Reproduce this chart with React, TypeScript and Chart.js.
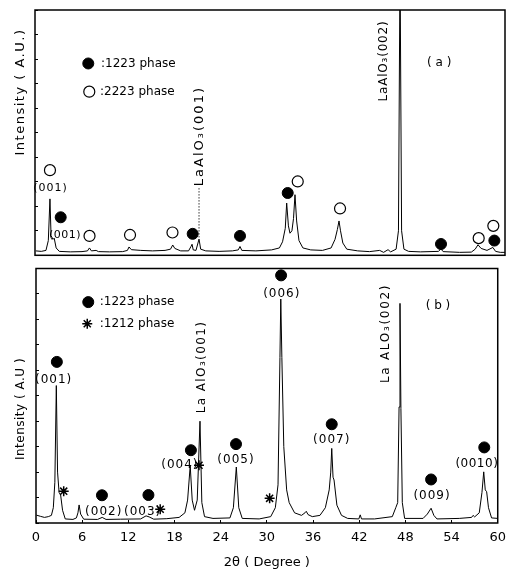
import React, { useEffect, useRef } from "react";
import { Chart, registerables } from "chart.js";
Chart.register(...registerables);

const X_TICKS = [0, 6, 12, 18, 24, 30, 36, 42, 48, 54, 60];
const Y_TICKS = [0, 10, 20, 30, 40, 50, 60, 70, 80, 90, 100];

// Panel (a) trace
const A_DEG = [0.1, 0.8, 1.4, 1.7, 1.91, 2.05, 2.3, 2.45, 2.7, 3.1, 4.5, 6.0, 6.7, 6.95, 7.2, 7.8, 8.1, 9.5, 11.2, 11.8, 12.0, 12.3, 13.5, 15.0, 16.6, 17.3, 17.58, 17.85, 18.6, 19.6, 19.9, 20.05, 20.2, 20.55, 20.94, 21.15, 21.8, 23.5, 25.2, 25.95, 26.17, 26.4, 28.2, 30.2, 31.2, 31.6, 31.95, 32.13, 32.35, 32.55, 32.8, 33.0, 33.19, 33.4, 33.7, 34.2, 35.2, 36.7, 37.8, 38.3, 38.6, 38.81, 39.0, 39.3, 39.8, 41.2, 42.7, 44.0, 44.5, 45.07, 45.4, 46.1, 46.4, 46.6, 46.8, 47.1, 47.7, 49.2, 51.5, 51.83, 52.1, 54.2, 55.7, 56.2, 56.55, 56.95, 57.7, 58.45, 58.8, 59.4, 60];
const A_INT = [1.8, 1.6, 2.0, 6, 23, 8, 6.5, 7, 3, 1.6, 1.4, 1.5, 1.8, 3.0, 1.8, 2.0, 1.5, 1.4, 1.5, 2.0, 3.4, 2.3, 2.0, 1.8, 2.0, 2.5, 4.2, 2.8, 1.8, 1.8, 3.5, 4.5, 2.2, 2.0, 6.6, 2.5, 1.8, 1.6, 1.8, 2.2, 3.6, 2.0, 1.8, 2.2, 3.0, 5.5, 11, 21.3, 12, 9, 10, 15, 24.7, 14, 6, 3, 2.2, 2.0, 3.0, 6.5, 10.5, 14, 10, 5, 2.5, 1.8, 1.5, 2.0, 1.2, 2.3, 1.4, 2.5, 10, 120, 10, 2.5, 1.6, 1.4, 1.6, 2.6, 1.5, 1.2, 1.3, 2.5, 4.3, 2.8, 2.0, 3.2, 1.6, 1.2, 1.2];

// Panel (a) phase markers
const A_1223_DEG = [3.28, 20.13, 26.17, 32.26, 51.83, 58.64];
const A_1223_INT = [15.5, 8.75, 7.9, 25.4, 4.6, 6.0];
const A_2223_DEG = [1.91, 6.96, 12.13, 17.55, 33.54, 38.94, 56.64, 58.51];
const A_2223_INT = [34.7, 7.9, 8.3, 9.3, 30.1, 19.1, 7.0, 12.0];
const A_LEG_FILLED = [{ x: 6.8, y: 78.2 }];
const A_LEG_OPEN = [{ x: 6.93, y: 66.7 }];
const A_LEADER_DEG = [20.94, 20.94];
const A_LEADER_INT = [27.4, 7.3];

// Panel (b) trace
const B_DEG = [0.05, 0.6, 1.1, 1.6, 2.0, 2.25, 2.45, 2.64, 2.8, 3.0, 3.2, 3.45, 3.8, 4.8, 5.25, 5.45, 5.6, 5.8, 6.2, 8.0, 8.6, 9.1, 11.0, 13.6, 14.3, 14.7, 15.3, 17.0, 18.6, 19.35, 19.7, 20.04, 20.3, 20.6, 20.95, 21.31, 21.55, 21.9, 23.0, 25.2, 25.65, 26.03, 26.35, 26.8, 29.0, 30.5, 31.1, 31.45, 31.7, 31.81, 31.95, 32.2, 32.57, 32.9, 33.6, 34.5, 34.95, 35.12, 35.35, 35.9, 36.9, 37.6, 38.1, 38.3, 38.43, 38.6, 38.73, 39.1, 39.7, 40.5, 41.95, 42.13, 42.3, 44.0, 46.3, 46.75, 47.0, 47.18, 47.3, 47.42, 47.6, 47.9, 50.3, 50.85, 51.34, 51.7, 52.1, 55.0, 56.6, 56.8, 57.0, 57.6, 57.95, 58.18, 58.38, 58.56, 58.8, 59.2, 60];
const B_INT = [3.1, 2.6, 2.2, 2.5, 3.0, 6, 16, 54, 20, 12, 11, 5, 1.6, 1.4, 2.0, 4, 7.1, 3.5, 1.5, 1.4, 2.2, 1.4, 1.5, 1.6, 2.8, 2.4, 1.5, 1.7, 2.2, 4, 9, 22.5, 9, 5, 9, 40, 8, 2.5, 1.8, 2, 6, 22, 6, 1.8, 1.6, 2.5, 6, 15, 65, 88, 65, 30, 13, 8, 4, 3, 4, 4.6, 3.3, 2.5, 3, 6, 13, 20, 29.3, 18, 16.9, 7, 3, 1.8, 1.6, 3.2, 1.6, 1.6, 2.5, 6, 8, 45.6, 86.3, 45, 8, 1.8, 1.8, 3.5, 5.8, 3, 1.6, 1.8, 2.2, 3.0, 2.4, 4, 12, 20.1, 13, 12.3, 6, 2, 1.8];

// Panel (b) phase markers
const B_1223_DEG = [2.71, 8.57, 14.61, 20.13, 25.99, 31.85, 38.43, 51.34, 58.25];
const B_1223_INT = [63.3, 10.9, 11.0, 28.6, 31.0, 97.3, 38.8, 17.1, 29.7];
const B_1212_DEG = [3.6, 16.14, 21.18, 30.36];
const B_1212_INT = [12.5, 5.4, 22.7, 9.7];
const B_LEG_FILLED = [{ x: 6.79, y: 86.8 }];
const B_LEG_STAR = [{ x: 6.66, y: 78.3 }];

type Note = { text: string; deg: number; val: number; size: number; ls?: number; rot?: boolean; align?: CanvasTextAlign };

const A_NOTES: Note[] = [
  { text: ":1223 phase", deg: 8.43, val: 78.2, size: 12, align: "left" },
  { text: ":2223 phase", deg: 8.3, val: 66.7, size: 12, align: "left" },
  { text: "(001)", deg: 1.98, val: 27.4, size: 11, ls: 1 },
  { text: "(001)", deg: 3.83, val: 8.3, size: 11, ls: 0.5 },
  { text: "LaAlO₃(001)", deg: 21.06, val: 48.6, size: 13, ls: 2, rot: true },
  { text: "LaAlO₃(002)", deg: 44.56, val: 79.2, size: 12, ls: 0.8, rot: true },
  { text: "( a )", deg: 51.6, val: 78.6, size: 12 },
];

const B_NOTES: Note[] = [
  { text: ":1223 phase", deg: 8.28, val: 86.8, size: 12, align: "left" },
  { text: ":1212 phase", deg: 8.28, val: 78.3, size: 12, align: "left" },
  { text: "(001)", deg: 2.29, val: 56.1, size: 12, ls: 1 },
  { text: "(002)", deg: 8.8, val: 4.4, size: 12, ls: 1 },
  { text: "(003)", deg: 13.85, val: 4.4, size: 12, ls: 1 },
  { text: "(004)", deg: 18.7, val: 22.7, size: 12, ls: 1 },
  { text: "(005)", deg: 25.99, val: 24.7, size: 12, ls: 1 },
  { text: "(006)", deg: 31.94, val: 90.1, size: 12, ls: 1 },
  { text: "(007)", deg: 38.43, val: 32.5, size: 12, ls: 1 },
  { text: "(009)", deg: 51.46, val: 10.6, size: 12, ls: 1 },
  { text: "(0010)", deg: 57.29, val: 23.4, size: 12, ls: 0.5 },
  { text: "La AlO₃(001)", deg: 21.53, val: 61.3, size: 12, ls: 1.4, rot: true },
  { text: "La ALO₃(002)", deg: 45.44, val: 74.5, size: 12, ls: 1.7, rot: true },
  { text: "( b )", deg: 52.23, val: 85.5, size: 12 },
];

const FONT = "'DejaVu Sans', sans-serif";

const pts = (xs: number[], ys: number[]) => xs.map((x, i) => ({ x, y: ys[i] }));

function makeNotes(items: Note[], ytitle: { text: string; x: number; y: number; size: number; ls: number }) {
  return {
    id: "notes",
    afterDraw(chart: any) {
      const { ctx, chartArea } = chart;
      const xs = chart.scales.x;
      const ys = chart.scales.y;
      ctx.save();
      ctx.strokeStyle = "#000";
      ctx.lineWidth = 1.5;
      ctx.strokeRect(chartArea.left, chartArea.top, chartArea.right - chartArea.left, chartArea.bottom - chartArea.top);
      ctx.restore();
      for (const n of items) {
        const px = xs.getPixelForValue(n.deg);
        const py = ys.getPixelForValue(n.val);
        ctx.save();
        ctx.fillStyle = "#000";
        ctx.font = `${n.size}px ${FONT}`;
        (ctx as any).letterSpacing = `${n.ls ?? 0}px`;
        ctx.textAlign = n.align || "center";
        ctx.textBaseline = "middle";
        ctx.translate(px, py);
        if (n.rot) ctx.rotate(-Math.PI / 2);
        ctx.fillText(n.text, 0, 0);
        ctx.restore();
      }
      ctx.save();
      ctx.fillStyle = "#000";
      ctx.font = `${ytitle.size}px ${FONT}`;
      (ctx as any).letterSpacing = `${ytitle.ls}px`;
      ctx.textAlign = "center";
      ctx.textBaseline = "middle";
      ctx.translate(ytitle.x, ytitle.y);
      ctx.rotate(-Math.PI / 2);
      ctx.fillText(ytitle.text, 0, 0);
      ctx.restore();
    },
  };
}

const filledDs = (data: any[]) => ({
  type: "scatter" as const,
  data,
  pointStyle: "circle",
  pointRadius: 5.5,
  backgroundColor: "#000",
  borderColor: "#000",
  borderWidth: 1,
  clip: false as any,
  order: 0,
});
const openDs = (data: any[]) => ({
  type: "scatter" as const,
  data,
  pointStyle: "circle",
  pointRadius: 5.5,
  backgroundColor: "#fff",
  borderColor: "#000",
  borderWidth: 1.2,
  clip: false as any,
  order: 0,
});
const starDs = (data: any[]) => ({
  type: "scatter" as const,
  data,
  pointStyle: "star",
  pointRadius: 5,
  backgroundColor: "#000",
  borderColor: "#000",
  borderWidth: 1.5,
  clip: false as any,
  order: 0,
});
const traceDs = (data: any[]) => ({
  type: "line" as const,
  data,
  borderColor: "#000",
  borderWidth: 1,
  pointRadius: 0,
  tension: 0,
  fill: false,
  order: 2,
});

function yScale(width: number) {
  return {
    type: "linear" as const,
    min: 0,
    max: 100,
    afterBuildTicks: (axis: any) => {
      axis.ticks = Y_TICKS.map((v) => ({ value: v }));
    },
    ticks: { display: false },
    grid: { display: true, drawOnChartArea: false, drawTicks: true, tickLength: -3, color: "#000", lineWidth: 1 },
    border: { display: false },
    afterFit: (s: any) => {
      s.width = width;
    },
  };
}

export default function App() {
  const refA = useRef<HTMLCanvasElement>(null);
  const refB = useRef<HTMLCanvasElement>(null);

  useEffect(() => {
    const chartA = new Chart(refA.current as HTMLCanvasElement, {
      type: "line",
      data: {
        datasets: [
          filledDs([...pts(A_1223_DEG, A_1223_INT), ...A_LEG_FILLED]) as any,
          openDs([...pts(A_2223_DEG, A_2223_INT), ...A_LEG_OPEN]) as any,
          {
            type: "line",
            data: pts(A_LEADER_DEG, A_LEADER_INT),
            borderColor: "#000",
            borderWidth: 0.8,
            borderDash: [1.5, 1.5],
            pointRadius: 0,
            order: 1,
          } as any,
          traceDs(pts(A_DEG, A_INT)) as any,
        ],
      },
      options: {
        animation: false,
        responsive: false,
        maintainAspectRatio: false,
        layout: { padding: { top: 10, right: 11, bottom: 4, left: 0 } },
        plugins: { legend: { display: false }, tooltip: { enabled: false } },
        scales: {
          x: {
            type: "linear",
            min: 0,
            max: 60,
            afterBuildTicks: (axis: any) => {
              axis.ticks = X_TICKS.map((v) => ({ value: v }));
            },
            ticks: { display: false },
            grid: { display: false },
            border: { display: false },
            afterFit: (s: any) => {
              s.height = 0;
            },
          },
          y: yScale(35) as any,
        },
      },
      plugins: [makeNotes(A_NOTES, { text: "Intensity ( A.U.)", x: 21, y: 92, size: 13, ls: 1.5 }) as any],
    });

    const chartB = new Chart(refB.current as HTMLCanvasElement, {
      type: "line",
      data: {
        datasets: [
          filledDs([...pts(B_1223_DEG, B_1223_INT), ...B_LEG_FILLED]) as any,
          starDs([...pts(B_1212_DEG, B_1212_INT), ...B_LEG_STAR]) as any,
          traceDs(pts(B_DEG, B_INT)) as any,
        ],
      },
      options: {
        animation: false,
        responsive: false,
        maintainAspectRatio: false,
        layout: { padding: { top: 6, right: 9, bottom: 0, left: 0 } },
        plugins: { legend: { display: false }, tooltip: { enabled: false } },
        scales: {
          x: {
            type: "linear",
            min: 0,
            max: 60,
            afterBuildTicks: (axis: any) => {
              axis.ticks = X_TICKS.map((v) => ({ value: v }));
            },
            ticks: {
              display: true,
              color: "#000",
              font: { family: FONT, size: 13 },
              padding: 10,
              maxRotation: 0,
              autoSkip: false,
            },
            grid: { display: true, drawOnChartArea: false, drawTicks: true, tickLength: -3, color: "#000" },
            border: { display: false },
            title: {
              display: true,
              text: "2θ ( Degree )",
              color: "#000",
              font: { family: FONT, size: 13 },
              padding: { top: 0, bottom: 2 },
            },
            afterFit: (s: any) => {
              s.height = 49;
            },
          },
          y: yScale(36) as any,
        },
      },
      plugins: [makeNotes(B_NOTES, { text: "Intensity ( A.U )", x: 21, y: 147, size: 12, ls: 0.5 }) as any],
    });

    return () => {
      chartA.destroy();
      chartB.destroy();
    };
  }, []);

  return (
    <div style={{ position: "absolute", left: 0, top: 0, width: 516, height: 572, background: "#fff" }}>
      <canvas ref={refA} width={516} height={262} style={{ position: "absolute", left: 0, top: 0, display: "block" }} />
      <canvas ref={refB} width={516} height={310} style={{ position: "absolute", left: 0, top: 262, display: "block" }} />
    </div>
  );
}
